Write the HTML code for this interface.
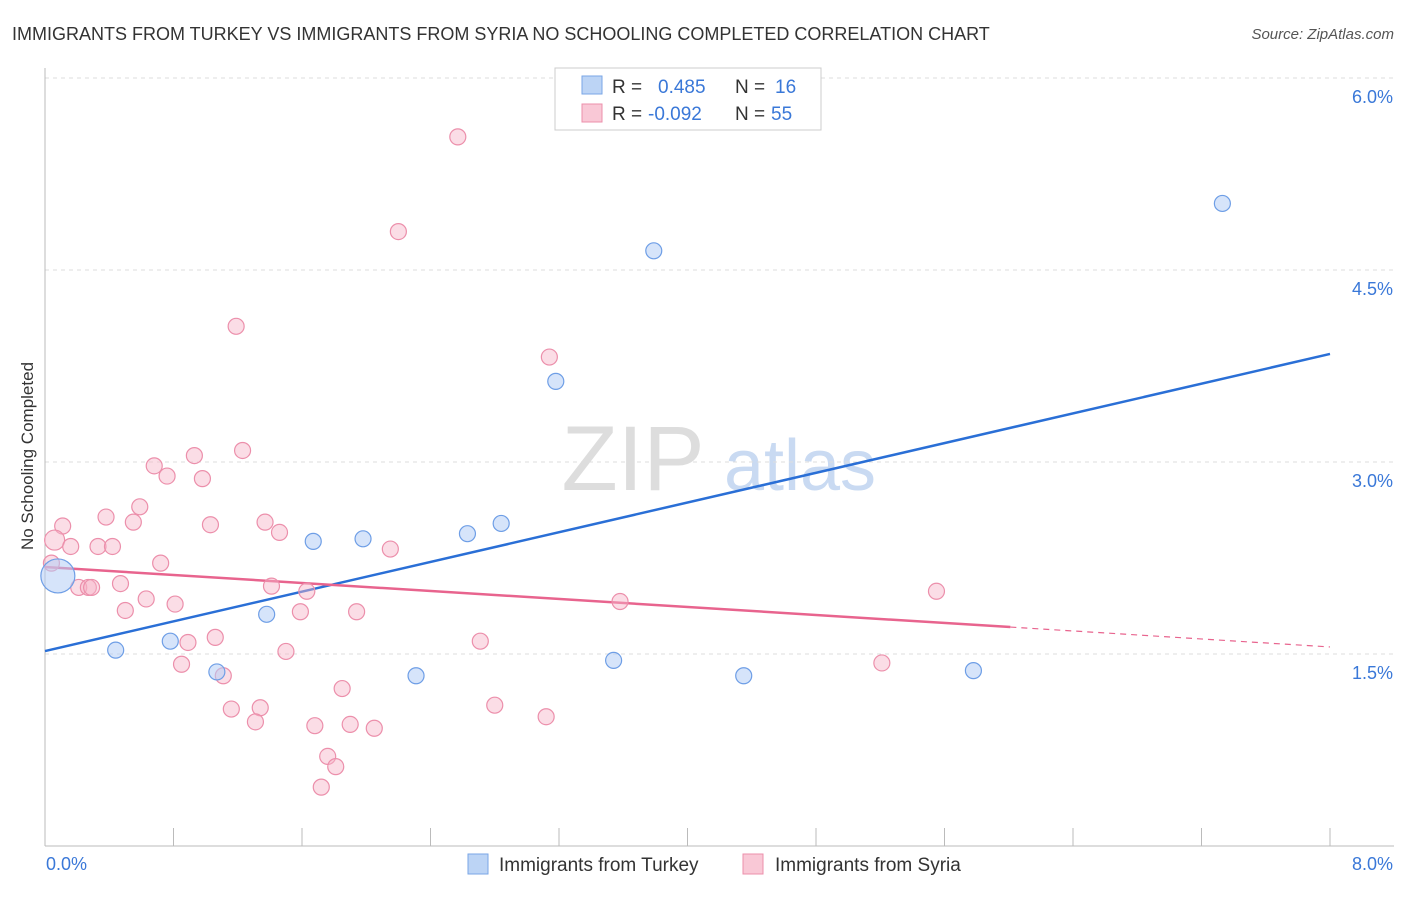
<!DOCTYPE html>
<html><head><meta charset="utf-8"><style>
body{margin:0;background:#fff;font-family:"Liberation Sans",sans-serif;}
svg text{font-family:"Liberation Sans",sans-serif;}
</style></head><body>
<svg id="chart" width="1406" height="892" xmlns="http://www.w3.org/2000/svg">
<text x="12" y="40" font-size="18" fill="#333">IMMIGRANTS FROM TURKEY VS IMMIGRANTS FROM SYRIA NO SCHOOLING COMPLETED CORRELATION CHART</text>
<text x="1394" y="39" font-size="15" fill="#555" font-style="italic" text-anchor="end">Source: ZipAtlas.com</text>
<text x="33" y="456" font-size="17" fill="#333" text-anchor="middle" transform="rotate(-90 33 456)">No Schooling Completed</text>
<g><text x="633" y="490" font-size="92" fill="#ddd" font-family="Liberation Serif" text-anchor="middle">ZIP</text><text x="800" y="490" font-size="72" fill="#c9daf2" text-anchor="middle">atlas</text></g>
<g id="grid"></g><g id="axes"></g><g id="trend"></g><g id="points"></g>
<g>
<rect x="555" y="68" width="266" height="62" fill="#fff" stroke="#ccc"/>
<rect x="582" y="76" width="20" height="18" fill="#bcd4f5" stroke="#7aa6e6"/>
<text x="612" y="93" font-size="19" fill="#333">R =</text><text x="658" y="93" font-size="19" fill="#3a78d8">0.485</text>
<text x="735" y="93" font-size="19" fill="#333">N =</text><text x="775" y="93" font-size="19" fill="#3a78d8">16</text>
<rect x="582" y="104" width="20" height="18" fill="#f9c8d6" stroke="#ec8fab"/>
<text x="612" y="120" font-size="19" fill="#333">R =</text><text x="648" y="120" font-size="19" fill="#3a78d8">-0.092</text>
<text x="735" y="120" font-size="19" fill="#333">N =</text><text x="771" y="120" font-size="19" fill="#3a78d8">55</text>
</g>
<g>
<rect x="468" y="854" width="20" height="20" fill="#bcd4f5" stroke="#7aa6e6"/>
<text x="499" y="871" font-size="19" fill="#333">Immigrants from Turkey</text>
<rect x="743" y="854" width="20" height="20" fill="#f9c8d6" stroke="#ec8fab"/>
<text x="775" y="871" font-size="19" fill="#333">Immigrants from Syria</text>
</g>
</svg>
<script>
const yTicks=[1.5,3.0,4.5,6.0];
const xTickLabels=["0.0%","8.0%"];
const turkeyX=[0.44,0.78,1.07,1.38,1.67,1.98,2.31,2.63,2.84,3.18,3.54,3.79,4.35,5.78,7.33,0.08];
const turkeyY=[1.53,1.60,1.36,1.81,2.38,2.40,1.33,2.44,2.52,3.63,1.45,4.65,1.33,1.37,5.02,2.11];
const syriaX=[2.57,2.20,1.19,3.14,1.23,0.93,0.68,0.76,0.98,0.59,0.38,0.55,0.11,1.03,1.37,1.46,0.06,0.16,0.33,0.42,2.15,0.72,0.04,0.47,1.41,0.21,0.27,0.29,1.63,5.55,0.63,0.81,3.58,0.50,1.59,1.94,1.06,0.89,2.71,1.50,0.85,1.11,5.21,1.85,1.34,1.16,2.80,3.12,1.31,1.68,1.90,2.05,1.76,1.81,1.72];
const syriaY=[5.54,4.80,4.06,3.82,3.09,3.05,2.97,2.89,2.87,2.65,2.57,2.53,2.50,2.51,2.53,2.45,2.39,2.34,2.34,2.34,2.32,2.21,2.21,2.05,2.03,2.02,2.02,2.02,1.99,1.99,1.93,1.89,1.91,1.84,1.83,1.83,1.63,1.59,1.60,1.52,1.42,1.33,1.43,1.23,1.08,1.07,1.10,1.01,0.97,0.94,0.95,0.92,0.70,0.62,0.46];
const turkeyTrend=[1.523,3.844];
const syriaTrend=[2.18,1.555];
const syriaSolidEnd=6.01;
const NS="http://www.w3.org/2000/svg";
const X0=45,X1=1330,Y0=846,PX=(X1-X0)/8,PY=128;
const sx=v=>X0+v*PX, sy=v=>Y0-v*PY;
function mk(tag,attrs,parent){const e=document.createElementNS(NS,tag);for(const k in attrs)e.setAttribute(k,attrs[k]);document.getElementById(parent).appendChild(e);return e;}
yTicks.forEach(t=>{
 const l=mk('line',{x1:X0,x2:1394,y1:sy(t),y2:sy(t),stroke:'#ddd','stroke-dasharray':'4,4'},'grid');
 
 
 const tx=mk('text',{x:1393,y:sy(t)+25,'font-size':18,fill:'#3a78d8','text-anchor':'end'},'grid');
 tx.textContent=t.toFixed(1)+'%';
 
 
});
const ax=mk('line',{x1:X0,x2:X0,y1:68,y2:Y0,stroke:'#bbb'},'axes');


const bx=mk('line',{x1:X0,x2:1394,y1:Y0,y2:Y0,stroke:'#bbb'},'axes');


for(let i=1;i<=10;i++){const x=X0+i*(X1-X0)/10;
 const t=mk('line',{x1:x,x2:x,y1:828,y2:Y0,stroke:'#bbb'},'axes');
 
 }
[[0,'start',46],[8,'end',1393]].forEach((p,i)=>{
 const t=mk('text',{x:p[2],y:870,'font-size':18,fill:'#3a78d8','text-anchor':p[1]},'axes');
 t.textContent=xTickLabels[i];
 
 });
const lerp=(a,x)=>a[0]+(a[1]-a[0])*x/8;
const bl=mk('line',{x1:sx(0),y1:sy(turkeyTrend[0]),x2:sx(8),y2:sy(turkeyTrend[1]),stroke:'#2a6fd6','stroke-width':2.5},'trend');


const pl=mk('line',{x1:sx(0),y1:sy(syriaTrend[0]),x2:sx(syriaSolidEnd),y2:sy(lerp(syriaTrend,syriaSolidEnd)),stroke:'#e8648e','stroke-width':2.5},'trend');


const pd=mk('line',{x1:sx(syriaSolidEnd),y1:sy(lerp(syriaTrend,syriaSolidEnd)),x2:sx(8),y2:sy(syriaTrend[1]),stroke:'#e8648e','stroke-width':1.2,'stroke-dasharray':'6,5'},'trend');


syriaX.forEach((v,i)=>{
 const c=mk('circle',{cx:sx(v),cy:sy(syriaY[i]),r:i==16?10:8,fill:'rgba(247,180,200,0.45)',stroke:'#ec8fab','stroke-width':1.2},'points');
 
 });
turkeyX.forEach((v,i)=>{
 const c=mk('circle',{cx:sx(v),cy:sy(turkeyY[i]),r:i==15?17:8,fill:'rgba(180,205,245,0.55)',stroke:'#6e9ee6','stroke-width':1.2},'points');
 
 });
</script>
</body></html>
